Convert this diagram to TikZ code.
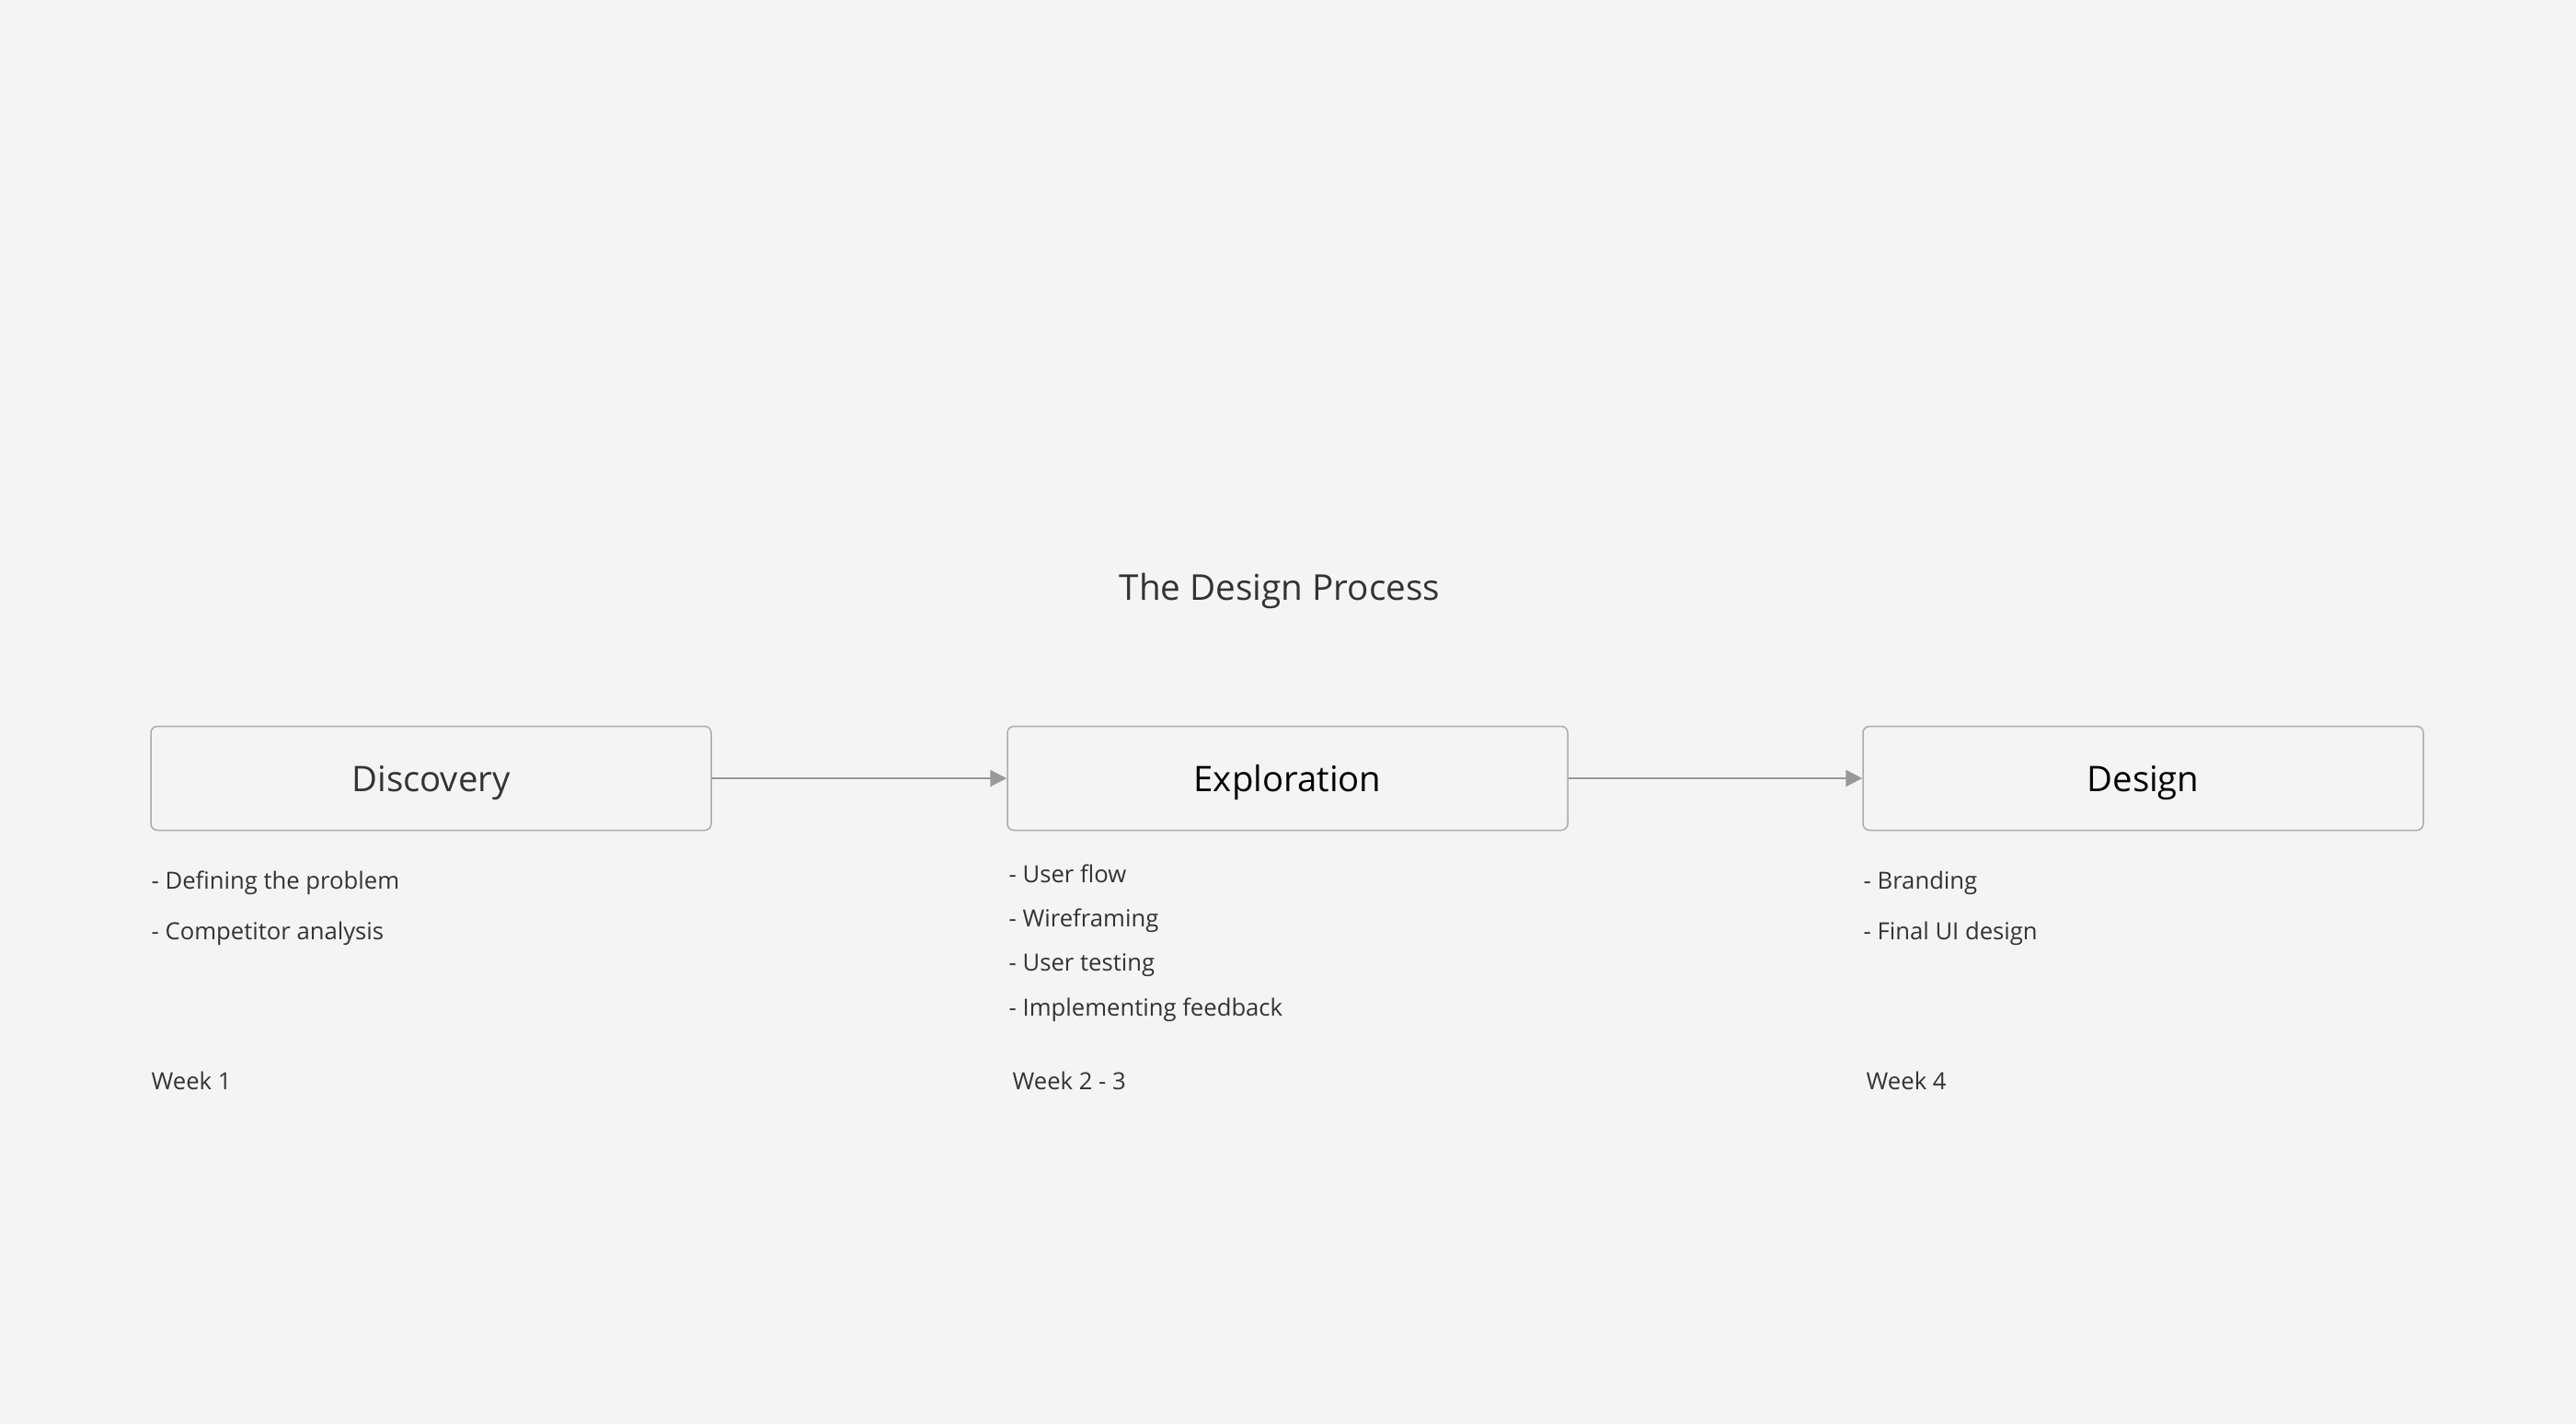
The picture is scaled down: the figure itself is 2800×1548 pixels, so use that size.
\documentclass[tikz,border=0pt]{standalone}
\usepackage{fontspec}
\setmainfont{Open Sans}
\usetikzlibrary{arrows.meta}
\definecolor{bg}{HTML}{F4F4F4}
\definecolor{boxline}{HTML}{ABABAB}
\definecolor{arrowc}{HTML}{999999}
\definecolor{txt}{HTML}{333333}
\tikzset{
  stagebox/.style={draw=boxline, line width=0.15mm, fill=bg, rounded corners=0.7mm,
    minimum width=60.9mm, minimum height=11.3mm, inner sep=0pt, text=txt, text depth=0pt,
    font=\fontsize{10.9pt}{13pt}\selectfont},
  flow/.style={draw=arrowc, line width=0.2mm, -{Triangle[length=1.8mm,width=1.8mm]}},
  item/.style={anchor=west, inner sep=0pt, text=txt, text depth=0pt, font=\fontsize{7.3pt}{9pt}\selectfont},
  title/.style={inner sep=0pt, text=txt, text depth=0pt, font=\fontsize{11pt}{13pt}\selectfont},
}
\begin{document}
\begin{tikzpicture}[x=0.1mm, y=-0.1mm]
\useasboundingbox[fill=bg] (0,0) rectangle (2800,1548);
\node[title] (title) at (1391,638) {The Design Process};
\node[stagebox] (disc) at (468.5,846) {Discovery};
\node[stagebox, text=black] (expl) at (1399.5,846) {Exploration};
\node[stagebox, text=black] (des) at (2329.5,846) {Design};
\draw[flow] (disc) -- (expl);
\draw[flow] (expl) -- (des);
\node[item] (d1) at (164,957) {- Defining the problem};
\node[item] (d2) at (164,1012) {- Competitor analysis};
\node[item] (e1) at (1096,950) {- User flow};
\node[item] (e2) at (1096,998) {- Wireframing};
\node[item] (e3) at (1096,1046) {- User testing};
\node[item] (e4) at (1096,1095) {- Implementing feedback};
\node[item] (g1) at (2025,957) {- Branding};
\node[item] (g2) at (2025,1012) {- Final UI design};
\node[item] (w1) at (164,1175) {Week 1};
\node[item] (w2) at (1100,1175) {Week 2 - 3};
\node[item] (w3) at (2028,1175) {Week 4};
\end{tikzpicture}
\end{document}
